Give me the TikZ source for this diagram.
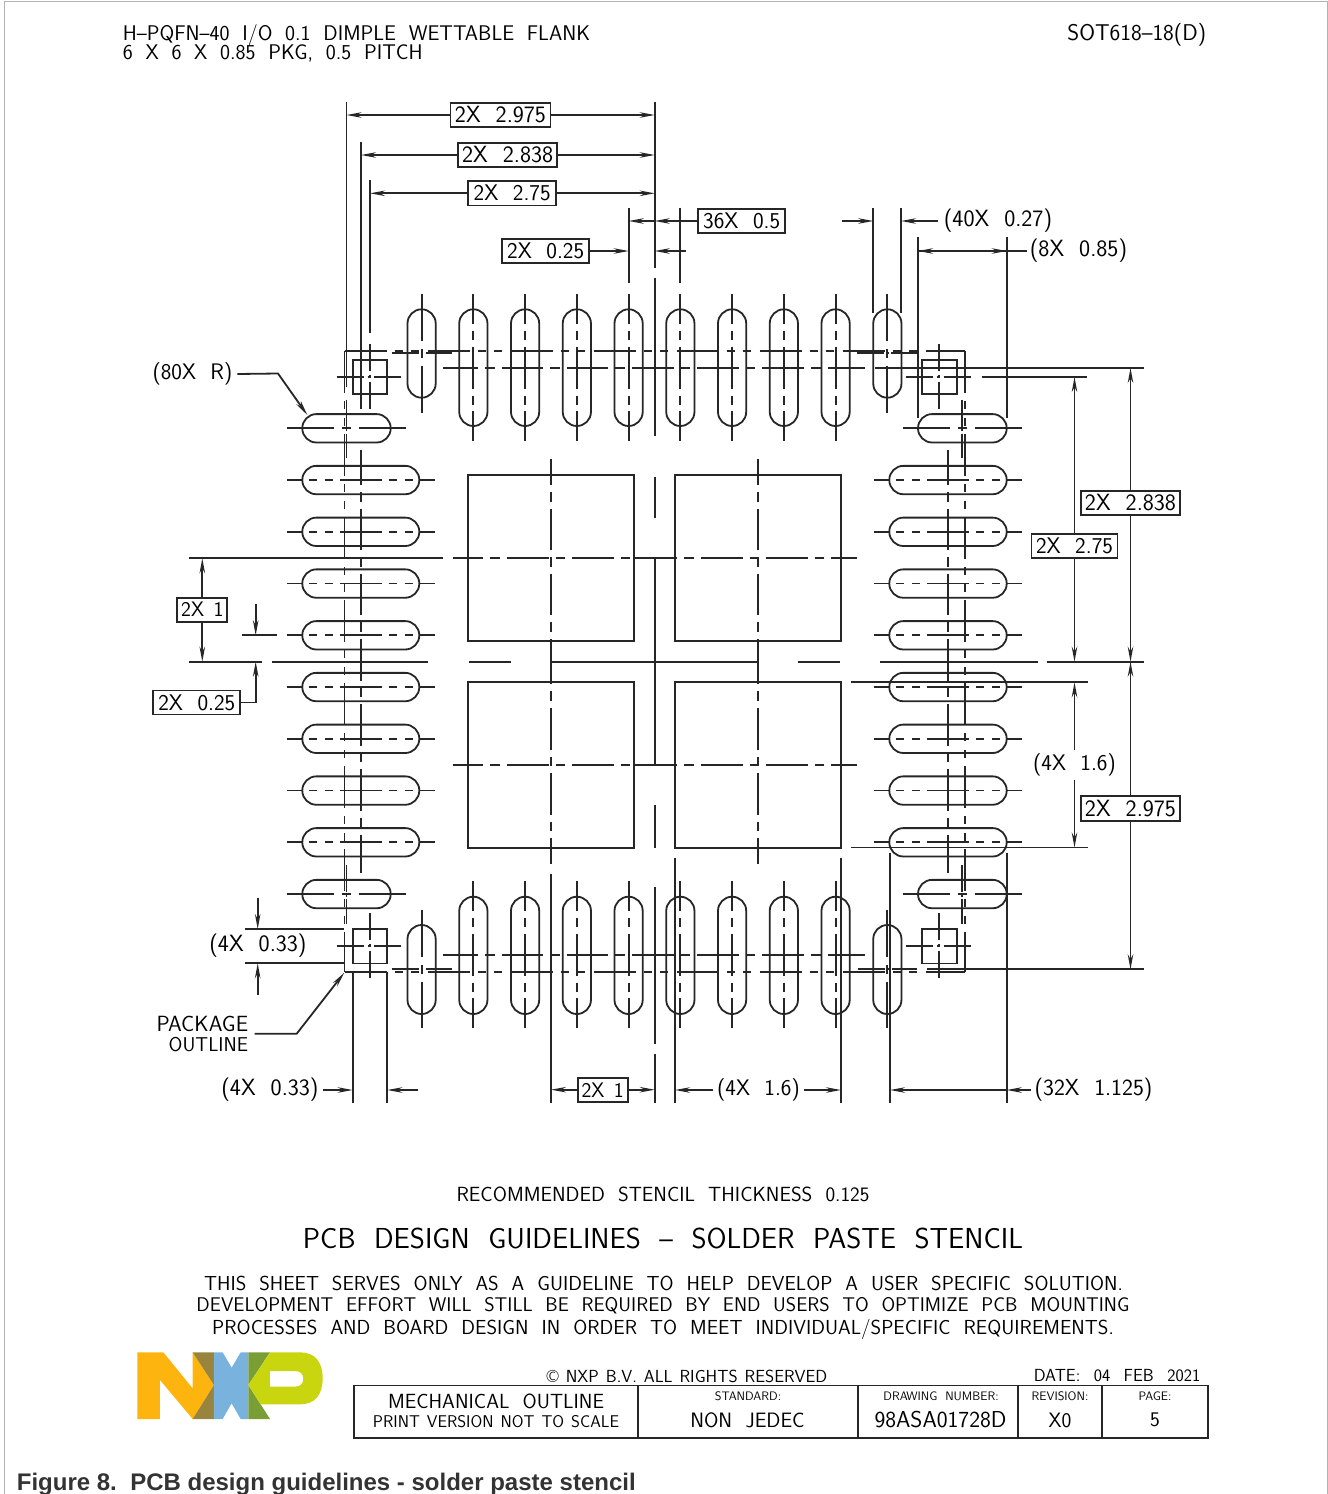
\documentclass[tikz,border=0pt]{standalone}
\usepackage{fontspec}
\usetikzlibrary{arrows.meta, positioning}
\newfontfamily\capfont{Liberation Sans}
\newcommand{\cadfont}[2][.64em]{\sffamily\fontsize{#2}{#2}\selectfont\spaceskip=#1\relax}

\definecolor{nxporange}{HTML}{FDB40F}
\definecolor{nxpolive}{HTML}{98843C}
\definecolor{nxpblue}{HTML}{7AB2DE}
\definecolor{nxpgreen}{HTML}{7A9E36}
\definecolor{nxplime}{HTML}{C9D50E}

\begin{document}
\begin{tikzpicture}[x=1pt,y=-1pt,line width=1.8pt,draw=black!85]
    % --- styles ---
    \tikzstyle{cadtext} = [inner sep=0pt, font=\cadfont{23.5}]
    \tikzstyle{dimbox} = [rectangle, draw=black!85, inner sep=0pt, minimum height=24.5pt, font=\cadfont{23.5}]
    \tikzstyle{dimarrow} = [-{Stealth[length=15pt,width=5.5pt]}]
    \tikzstyle{cellhead} = [inner sep=0pt, font=\cadfont{12.3}]
    \tikzstyle{cellbody} = [inner sep=0pt, font=\cadfont{20.8}]
    \tikzstyle{slot} = [rounded corners=14.1pt]
    \tikzstyle{chainline} = [dash pattern=on 41.7pt off 7pt on 9.5pt off 7pt]
    \tikzstyle{phantomline} = [dash pattern=on 42pt off 8pt on 8pt off 8.5pt on 8pt off 8.5pt]
    \tikzstyle{slotvlong} = [dash pattern=on 30pt off 6.5pt on 9pt off 7pt on 42pt off 7pt on 9pt off 6.5pt on 30pt off 99pt]
    \tikzstyle{slothlong} = [dash pattern=on 15pt off 7pt on 8pt off 8pt on 8pt off 7pt on 42pt off 7pt on 8pt off 8pt on 8pt off 7pt on 15pt off 99pt]
    \tikzstyle{slotshort} = [dash pattern=on 47pt off 8pt on 9pt off 8pt on 47pt off 99pt]
    \tikzstyle{padcross} = [dash pattern=on 27pt off 4pt on 2.6pt off 4pt on 27pt off 99pt]
    \tikzstyle{cornermark} = [dash pattern=on 27pt off 2.5pt on 2pt off 2.5pt on 26pt off 99pt]

    \useasboundingbox (0,0) rectangle (1328,1494);

    % --- page edge ---
    \draw [gray!60, line width=1pt] (4,1494) -- (4,1) -- (1327.5,1) -- (1327.5,1494);

    % --- heading ---
    \node (headone) [cadtext, anchor=west, font={\cadfont[.6em]{21.2}}] at (122,35) {H--PQFN--40 I/O 0.1 DIMPLE WETTABLE FLANK};
    \node (headtwo) [cadtext, anchor=west, font={\cadfont[.6em]{21.2}}] at (122,53.5) {6 X 6 X 0.85 PKG, 0.5 PITCH};
    \node (sheetcode) [cadtext, anchor=east, font=\cadfont{22.8}] at (1207,35) {SOT618--18(D)};

    % --- reference points of the extension lines ---
    \coordinate (xout) at (346.5,0);
    \coordinate (xmid) at (361,0);
    \coordinate (xpad) at (370,0);
    \coordinate (xpadl) at (352.7,0);
    \coordinate (xpadr) at (387.3,0);
    \coordinate (xctr) at (654.7,0);
    \coordinate (xpinl) at (628.7,0);
    \coordinate (xpinr) at (680.3,0);
    \coordinate (xsma) at (873.3,0);
    \coordinate (xsmb) at (901,0);
    \coordinate (xcola) at (918,0);
    \coordinate (xcolb) at (1006.7,0);
    \coordinate (xcolc) at (890,0);
    \coordinate (xepa) at (551,0);
    \coordinate (xepb) at (675,0);
    \coordinate (xepc) at (841,0);
    \coordinate (ytopa) at (0,368);
    \coordinate (ytopb) at (0,377);
    \coordinate (ymidu) at (0,558.3);
    \coordinate (ymid) at (0,661.7);
    \coordinate (ymidl) at (0,682.3);
    \coordinate (ylowl) at (0,847.5);
    \coordinate (ybot) at (0,969.3);
    \coordinate (yslot) at (0,635.3);
    \coordinate (ypadt) at (0,929);
    \coordinate (ypadb) at (0,963.3);

    % --- perimeter slots ---
    \foreach \i in {0,...,9} {
        \pgfmathsetmacro{\sx}{421.6+51.75*\i}
        \pgfmathsetmacro{\sy}{428.3+51.75*\i}
        \ifnum\i=0 \def\isshort{1}\else\ifnum\i=9 \def\isshort{1}\else\def\isshort{0}\fi\fi
        \if\isshort1
            \draw [slot] (\sx-14.1,309.3) rectangle (\sx+14.1,397.7);
            \draw [slot] (\sx-14.1,925) rectangle (\sx+14.1,1014);
            \draw [slot] (302.3,\sy-14.2) rectangle (390.7,\sy+14.2);
            \draw [slot] (918,\sy-14.2) rectangle (1006.7,\sy+14.2);
            \draw [slotshort] (\sx,294) -- (\sx,413);
            \draw [slotshort] (\sx,910) -- (\sx,1028);
            \draw [slotshort] (286.7,\sy) -- (406.7,\sy);
            \draw [slotshort] (902.7,\sy) -- (1022.7,\sy);
        \else
            \draw [slot] (\sx-14.1,309.3) rectangle (\sx+14.1,426);
            \draw [slot] (\sx-14.1,896.7) rectangle (\sx+14.1,1014);
            \draw [slot] (302.3,\sy-14.2) rectangle (419.3,\sy+14.2);
            \draw [slot] (889.3,\sy-14.2) rectangle (1006.7,\sy+14.2);
            \draw [slotvlong] (\sx,294) -- (\sx,441.7);
            \draw [slotvlong] (\sx,881) -- (\sx,1028);
            \draw [slothlong] (286.7,\sy) -- (435,\sy);
            \draw [slothlong] (874,\sy) -- (1022.7,\sy);
        \fi
    }

    % --- corner pads ---
    \foreach \cx/\cy in {370/377,939.3/377,370/946.2,939.3/946.2} {
        \draw (\cx-17.3,\cy-17.2) rectangle (\cx+17.3,\cy+17.2);
        \draw [padcross] (\cx-33.3,\cy) -- (\cx+33.3,\cy);
        \draw [padcross] (\cx,\cy-33) -- (\cx,\cy+33);
    }

    % --- marks of the corner slots ---
    \draw [cornermark] (391.7,353.3) -- (451.7,353.3);
    \draw [cornermark] (857,353.3) -- (917,353.3);
    \draw [cornermark] (391.7,969.3) -- (451.7,969.3);
    \draw [cornermark] (858,969.3) -- (917,969.3);
    \draw [cornermark] (346.5,399.5) -- (346.5,458);
    \draw [cornermark] (962.3,399.5) -- (962.3,458.3);
    \draw [cornermark] (346.5,865) -- (346.5,923.5);
    \draw [cornermark] (962.3,865) -- (962.3,924.3);

    % --- package outline and long centre lines ---
    \draw [phantomline] (344.5,351) -- (965,351);
    \draw [phantomline] (344.5,971.7) -- (965,971.7);
    \draw [phantomline] (344.5,351) -- (344.5,971.7);
    \draw [phantomline] (965,351) -- (965,971.7);
    \draw [chainline, dash phase=6.7pt] (361,450) -- (361,872.7);
    \draw [chainline, dash phase=6.7pt] (948.3,450) -- (948.3,872.7);
    \draw [chainline, dash phase=6.7pt] (443,368) -- (865,368);
    \draw [chainline, dash phase=6.7pt] (443,955) -- (865,955);

    % --- thermal pads ---
    \draw (468,475) rectangle (633.7,640.7);
    \draw (675,475) rectangle (841,640.7);
    \draw (468,682) rectangle (633.7,848);
    \draw (675,682) rectangle (841,848);
    \foreach \ly in {558.3,765} {
        \draw [chainline, dash phase=11pt] (452.7,\ly) -- (650,\ly);
        \draw [chainline, dash phase=16pt] (857,\ly) -- (659,\ly);
        \draw (633.7,\ly) -- (675,\ly);
    }
    \foreach \lx in {551,758} {
        \draw [chainline, dash phase=16pt] (\lx,459.3) -- (\lx,657);
        \draw [chainline, dash phase=16pt] (\lx,864) -- (\lx,666);
        \draw (\lx,640.7) -- (\lx,682);
    }

    % --- extension lines ---
    \draw (346.5,102) -- (346.5,386.7);
    \draw (361,141.7) -- (361,409);
    \draw (370,180) -- (370,333);
    \draw (654.7,102) -- (654.7,268);
    \draw (654.7,278) -- (654.7,436);
    \draw (654.7,476.7) -- (654.7,517.7);
    \draw (654.7,558.3) -- (654.7,765);
    \draw (654.7,805) -- (654.7,848);
    \draw (654.7,887) -- (654.7,1044);
    \draw (654.7,1054) -- (654.7,1102.7);
    \draw (628.7,207.7) -- (628.7,283.3);
    \draw (680.3,207.7) -- (680.3,283.3);
    \draw (873.3,208) -- (873.3,313);
    \draw (901,208) -- (901,313);
    \draw (918,237.3) -- (918,418);
    \draw (1006.7,237.3) -- (1006.7,418);
    \draw (352.7,971.7) -- (352.7,1102.7);
    \draw (387.3,971.7) -- (387.3,1102.7);
    \draw (551,874) -- (551,1102.7);
    \draw (675,858) -- (675,1102.7);
    \draw (841,858) -- (841,1102.7);
    \draw (890,852.7) -- (890,1102.7);
    \draw (1006.7,852.7) -- (1006.7,1102.7);

    \draw (875,368) -- (1144,368);
    \draw (981.7,377) -- (1087.3,377);
    \draw (189.3,558.3) -- (442.7,558.3);
    \draw (189.3,661.7) -- (261.7,661.7);
    \draw (271.7,661.7) -- (428,661.7);
    \draw (469.3,661.7) -- (510.7,661.7);
    \draw (551,661.7) -- (758,661.7);
    \draw (798.3,661.7) -- (840,661.7);
    \draw (880,661.7) -- (1038,661.7);
    \draw (1047,661.7) -- (1144,661.7);
    \draw (850.7,682.3) -- (1087.7,682.3);
    \draw (850.7,847.5) -- (1087.7,847.5);
    \draw (927,969.3) -- (1144,969.3);
    \draw (242.3,635.3) -- (276.7,635.3);
    \draw (245,929) -- (344.3,929);
    \draw (245,963.3) -- (344.3,963.3);

    % --- dimensions above the package ---
    \node (dimouter) [dimbox, minimum width=100pt] at (500.5,115) {2X 2.975};
    \node (dimmiddle) [dimbox, minimum width=99pt] at (507.7,155) {2X 2.838};
    \node (diminner) [dimbox, minimum width=88pt, font=\cadfont{22.6}] at (512.2,193.3) {2X 2.75};
    \node (dimpitch) [dimbox, minimum width=87pt, font=\cadfont{22.6}] at (741.7,221) {36X 0.5};
    \node (dimhalf) [dimbox, minimum width=87pt, font=\cadfont{22.6}] at (545.7,251) {2X 0.25};
    \node (dimwidth) [cadtext] at (998,221) {(40X 0.27)};
    \node (dimlength) [cadtext] at (1078.5,251) {(8X 0.85)};

    \draw [dimarrow] (dimouter.west) -- (dimouter.west -| xout);
    \draw [dimarrow] (dimouter.east) -- (dimouter.east -| xctr);
    \draw [dimarrow] (dimmiddle.west) -- (dimmiddle.west -| xmid);
    \draw [dimarrow] (dimmiddle.east) -- (dimmiddle.east -| xctr);
    \draw [dimarrow] (diminner.west) -- (diminner.west -| xpad);
    \draw [dimarrow] (diminner.east) -- (diminner.east -| xctr);
    \draw [dimarrow] (dimpitch.west -| xctr) -- (dimpitch.west -| xpinl);
    \draw [dimarrow] (dimpitch.west) -- (dimpitch.west -| xpinr) -- (dimpitch.west -| xctr);
    \draw [dimarrow] (dimhalf.east) -- (dimhalf.east -| xpinl);
    \coordinate (tailhalf) at (686,251);
    \draw [dimarrow] (tailhalf) -- (tailhalf -| xctr);
    \coordinate (tailwidth) at (842,221);
    \draw [dimarrow] (tailwidth) -- (tailwidth -| xsma);
    \draw [dimarrow] ([xshift=-5pt]dimwidth.west) -- (dimwidth.west -| xsmb);
    \draw [dimarrow] ([xshift=-2pt]dimlength.west) -- (dimlength.west -| xcola);
    \draw [dimarrow] (dimlength.west -| xcola) -- (dimlength.west -| xcolb);

    % --- dimensions left of the package ---
    \node (dimround) [cadtext, font=\cadfont{22.5}] at (192.5,374) {(80X R)};
    \node (dimleft) [dimbox, minimum width=50pt, minimum height=24pt, font={\cadfont[.45em]{21}}] at (202.3,609.7) {2X 1};
    \node (dimleftgap) [dimbox, minimum width=87pt, minimum height=24pt, font=\cadfont{22.6}] at (196.8,702.5) {2X 0.25};
    \node (dimpadh) [cadtext] at (258,946) {(4X 0.33)};
    \node (pkgnote) [cadtext, anchor=east, font=\cadfont{22}] at (249,1024) {PACKAGE};
    \node (pkgnotetwo) [cadtext, anchor=east, font=\cadfont{20}] at (249,1045) {OUTLINE};

    \coordinate (roundbend) at (278,373.5);
    \coordinate (roundtip) at (307.3,415);
    \draw [dimarrow] ([xshift=4pt]dimround.east) -- (roundbend) -- (roundtip);
    \draw [dimarrow] (dimleft.north) -- (dimleft.north |- ymidu);
    \draw [dimarrow] (dimleft.south) -- (dimleft.south |- ymid);
    \coordinate (tailgap) at (255.7,604.3);
    \draw [dimarrow] (tailgap) -- (tailgap |- yslot);
    \draw [dimarrow] (dimleftgap.east) -| (tailgap |- ymid);
    \coordinate (tailpadt) at (257.7,897.7);
    \coordinate (tailpadb) at (257.7,995);
    \draw [dimarrow] (tailpadt) -- (tailpadt |- ypadt);
    \draw [dimarrow] (tailpadb) -- (tailpadb |- ypadb);
    \coordinate (pkgbend) at (296.7,1033.7);
    \coordinate (pkgtip) at (344.3,972.7);
    \coordinate (pkgtail) at (254.7,1033.7);
    \draw [dimarrow] (pkgtail) -- (pkgbend) -- (pkgtip);

    % --- dimensions right of the package ---
    \node (dimrmiddle) [dimbox, minimum width=99pt] at (1130.5,503) {2X 2.838};
    \node (dimrinner) [dimbox, minimum width=86pt, font=\cadfont{22.6}] at (1074.5,546) {2X 2.75};
    \node (dimrouter) [dimbox, minimum width=99pt] at (1130.5,808.5) {2X 2.975};
    \node (dimrpad) [cadtext, inner ysep=3pt, font=\cadfont{22.5}] at (1074.5,765) {(4X 1.6)};

    \draw [dimarrow] (dimrmiddle.north) -- (dimrmiddle.north |- ytopa);
    \draw [dimarrow] (dimrmiddle.south) -- (dimrmiddle.south |- ymid);
    \draw [dimarrow] (dimrinner.north) -- (dimrinner.north |- ytopb);
    \draw [dimarrow] (dimrinner.south) -- (dimrinner.south |- ymid);
    \draw [dimarrow] (dimrouter.north) -- (dimrouter.north |- ymid);
    \draw [dimarrow] (dimrouter.south) -- (dimrouter.south |- ybot);
    \draw [dimarrow] (dimrpad.north) -- (dimrpad.north |- ymidl);
    \draw [dimarrow] (dimrpad.south) -- (dimrpad.south |- ylowl);

    % --- dimensions below the package ---
    \node (dimbpad) [cadtext] at (270,1090) {(4X 0.33)};
    \node (dimbone) [dimbox, minimum width=50pt, minimum height=24pt, font={\cadfont[.45em]{21}}] at (602.7,1089.7) {2X 1};
    \node (dimbep) [cadtext, font=\cadfont{22.5}] at (758.5,1090) {(4X 1.6)};
    \node (dimbcol) [cadtext, font=\cadfont{23.2}] at (1093.5,1090) {(32X 1.125)};

    \draw [dimarrow] ([xshift=3pt]dimbpad.east) -- (dimbpad.east -| xpadl);
    \coordinate (tailbpad) at (418.3,1090);
    \draw [dimarrow] (tailbpad) -- (tailbpad -| xpadr);
    \draw [dimarrow] (dimbone.west) -- (dimbone.west -| xepa);
    \draw [dimarrow] (dimbone.east) -- (dimbone.east -| xctr);
    \draw [dimarrow] ([xshift=-3pt]dimbep.west) -- (dimbep.west -| xepb);
    \draw [dimarrow] ([xshift=3pt]dimbep.east) -- (dimbep.east -| xepc);
    \draw [dimarrow] ([xshift=-3pt]dimbcol.west) -- (dimbcol.west -| xcolb);
    \draw [dimarrow] (dimbcol.west -| xcolb) -- (dimbcol.west -| xcolc);

    % --- notes ---
    \node (stencilnote) [cadtext, font=\cadfont{20.5}] at (663,1194) {RECOMMENDED STENCIL THICKNESS 0.125};
    \node (sheettitle) [cadtext, font=\cadfont{28.9}] at (663,1238) {PCB DESIGN GUIDELINES -- SOLDER PASTE STENCIL};
    \node (noteone) [cadtext, font=\cadfont{20.25}] at (663.5,1283) {THIS SHEET SERVES ONLY AS A GUIDELINE TO HELP DEVELOP A USER SPECIFIC SOLUTION.};
    \node (notetwo) [cadtext, font=\cadfont{19.8}] at (663,1305.5) {DEVELOPMENT EFFORT WILL STILL BE REQUIRED BY END USERS TO OPTIMIZE PCB MOUNTING};
    \node (notethree) [cadtext, font=\cadfont{20.3}] at (663,1329) {PROCESSES AND BOARD DESIGN IN ORDER TO MEET INDIVIDUAL/SPECIFIC REQUIREMENTS.};

    % --- logo ---
    \begin{scope}[shift={(130,1345)},x=0.3333pt,y=-0.3333pt]
        \fill [nxporange] (22,22) -- (100,22) -- (188,130) -- (188,22) -- (252,120) -- (188,222) -- (90,105) -- (90,222) -- (22,222) -- cycle;
        \fill [nxpolive] (188,22) -- (252,22) -- (252,120) -- cycle;
        \fill [nxpolive] (188,222) -- (252,222) -- (252,120) -- cycle;
        \fill [nxpblue] (252,22) -- (278,22) -- (305,68) -- (332,22) -- (355,22) -- (355,222) -- (332,222) -- (305,175) -- (278,222) -- (252,222) -- cycle;
        \fill [nxpgreen] (355,22) -- (420,22) -- (355,120) -- cycle;
        \fill [nxpgreen] (355,222) -- (420,222) -- (355,120) -- cycle;
        \fill [nxplime, even odd rule] (355,120) -- (420,22) -- (510,22) .. controls (555,22) and (578,50) .. (578,100) .. controls (578,150) and (555,178) .. (510,178) -- (392,178) -- cycle
            (420,78) -- (495,78) .. controls (512,78) and (520,88) .. (520,101) .. controls (520,115) and (512,125) .. (495,125) -- (420,125) -- cycle;
    \end{scope}

    % --- title block ---
    \node (rights) [cadtext, font={\cadfont[.4em]{17.5}}] at (687,1376) {\textcopyright\ NXP B.V. ALL RIGHTS RESERVED};
    \node (sheetdate) [cadtext, font={\cadfont[.77em]{17.5}}] at (1117,1376) {DATE: 04 FEB 2021};
    \draw (354,1385.5) rectangle (1208,1438);
    \draw (638,1385.5) -- (638,1438);
    \draw (858,1385.5) -- (858,1438);
    \draw (1018,1385.5) -- (1018,1438);
    \draw (1102,1385.5) -- (1102,1438);
    \node (celltitle) [cadtext, font=\cadfont{20.5}] at (496,1401.5) {MECHANICAL OUTLINE};
    \node (cellprint) [cadtext, font={\cadfont[.41em]{17}}] at (496,1421.5) {PRINT VERSION NOT TO SCALE};
    \node (cellstd) [cellhead] at (748,1396) {STANDARD:};
    \node (cellstdv) [cellbody] at (747.5,1420) {NON JEDEC};
    \node (celldwg) [cellhead] at (941,1396) {DRAWING NUMBER:};
    \node (celldwgv) [cellbody, font=\cadfont{23}] at (940.5,1420) {98ASA01728D};
    \node (cellrev) [cellhead] at (1060,1396) {REVISION:};
    \node (cellrevv) [cellbody] at (1060,1420) {X0};
    \node (cellpage) [cellhead] at (1155,1396) {PAGE:};
    \node (cellpagev) [cellbody] at (1155,1420) {5};

    % --- caption ---
    \node (figcaption) [anchor=west, inner sep=0pt, text=black!80, font=\capfont\bfseries\fontsize{24}{26}\selectfont] at (16,1484) {Figure 8.\ \ PCB design guidelines - solder paste stencil};
\end{tikzpicture}
\end{document}
